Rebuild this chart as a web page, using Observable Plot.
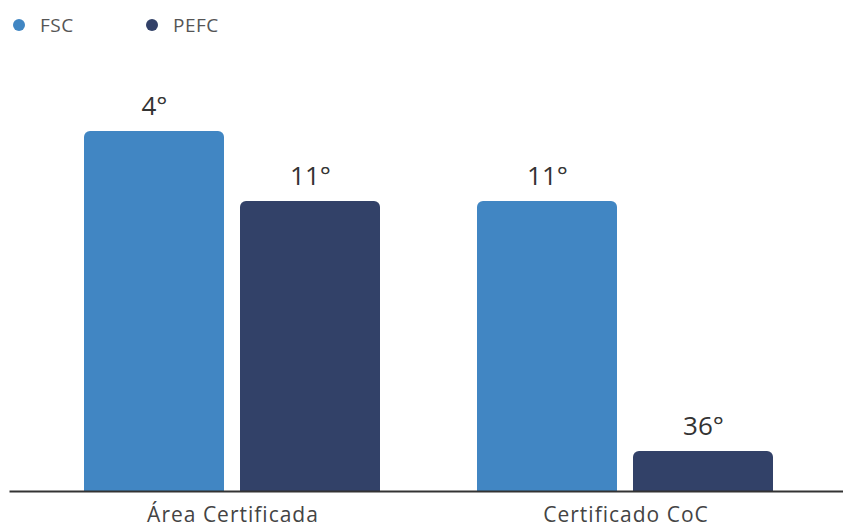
<!DOCTYPE html>
<html>
<head>
<meta charset="utf-8">
<script src="https://cdn.jsdelivr.net/npm/d3@7"></script>
<script src="https://cdn.jsdelivr.net/npm/@observablehq/plot@0.6"></script>
<style>
  html, body { margin: 0; padding: 0; background: #fff; }
  body { width: 843px; height: 530px; overflow: hidden; font-family: "Open Sans", Lato, sans-serif; }
  #legend { position: relative; height: 50px; }
  .item { position: absolute; top: 12px; display: flex; align-items: center; font-size: 19px; letter-spacing: 0.5px; color: #555; }
  .dot { width: 12px; height: 12px; border-radius: 50%; margin-right: 15px; }
  svg text { font-family: "Open Sans", Lato, sans-serif; }
  g[aria-label="fx-axis tick label"] text { letter-spacing: 1px; }
</style>
</head>
<body>
<div id="legend"></div>
<div id="chart"></div>
<script>
const categories = ["Área Certificada", "Certificado CoC"];
const series = ["FSC", "PEFC"];
const colors = ["#4186c3", "#324168"];
// bar heights (36 = tallest) and the rank labels shown above them
const fscValues = [36, 29];
const pefcValues = [29, 4];
const fscLabels = ["4°", "11°"];
const pefcLabels = ["11°", "36°"];

const data = [];
categories.forEach((c, i) => {
  data.push({category: c, series: "FSC", value: fscValues[i], label: fscLabels[i]});
  data.push({category: c, series: "PEFC", value: pefcValues[i], label: pefcLabels[i]});
});

const legend = document.getElementById("legend");
const lefts = [13, 146];
series.forEach((s, i) => {
  const el = document.createElement("div");
  el.className = "item";
  el.style.left = lefts[i] + "px";
  el.innerHTML = `<span class="dot" style="background:${colors[i]}"></span>${s}`;
  legend.appendChild(el);
});

const chart = Plot.plot({
  width: 843,
  height: 480,
  marginLeft: 35,
  marginRight: 21,
  marginTop: 41,
  marginBottom: 39,
  fx: {domain: categories, padding: 0, label: null, axis: null},
  x: {domain: series, paddingInner: 0.102, paddingOuter: 0.304, axis: null},
  y: {domain: [0, 40], axis: null},
  color: {domain: series, range: colors},
  marks: [
    Plot.barY(data, {fx: "category", x: "series", y: "value", fill: "series", rx: 6, insetBottom: -10, clip: true}),
    Plot.text(data, {fx: "category", x: "series", y: "value", text: "label", dy: -25, fontSize: 26, fill: "#333"}),
    Plot.frame({anchor: "bottom", facet: "super", stroke: "#333", strokeWidth: 2, insetLeft: -26, insetRight: -21}),
    Plot.axisFx({anchor: "bottom", tickSize: 0, tickPadding: 16, fontSize: 21, color: "#444", label: null})
  ]
});
document.getElementById("chart").appendChild(chart);
</script>
</body>
</html>
